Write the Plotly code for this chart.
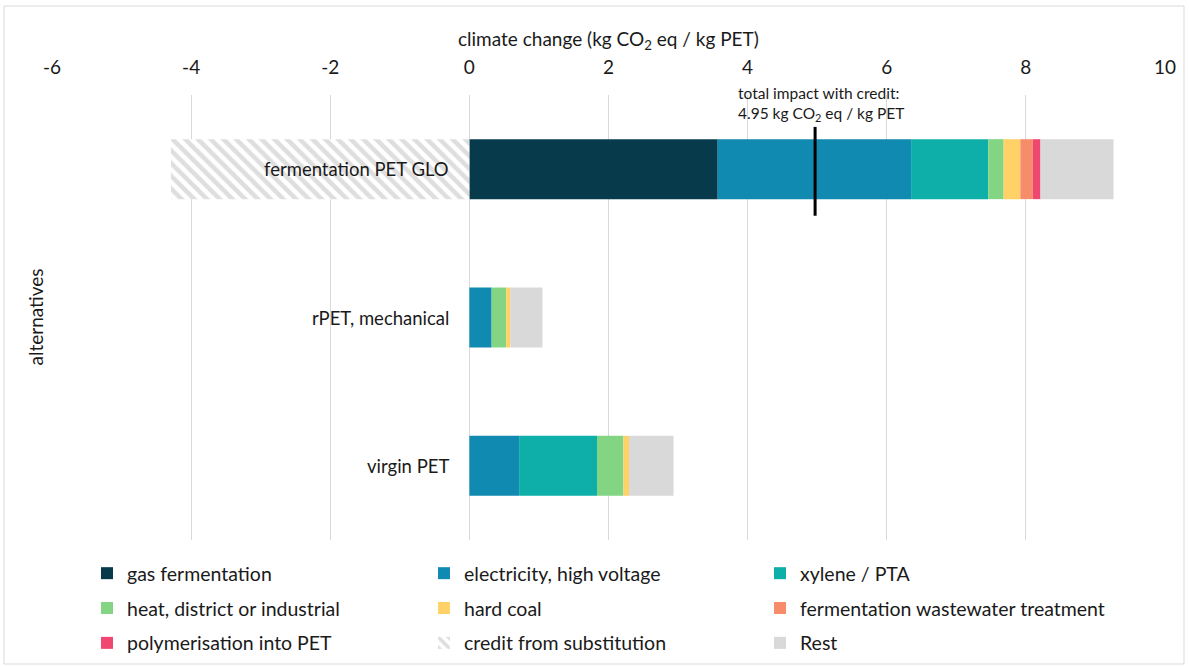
import plotly.graph_objects as go

categories = ["fermentation PET GLO", "rPET, mechanical", "virgin PET"]

gas_fermentation = [3.57, 0.0, 0.0]
electricity = [2.78, 0.32, 0.715]
xylene_pta = [1.11, 0.0, 1.12]
heat = [0.22, 0.21, 0.38]
hard_coal = [0.24, 0.06, 0.08]
wastewater = [0.18, 0.0, 0.0]
polymerisation = [0.11, 0.0, 0.0]
credit = [-4.29, 0.0, 0.0]
rest = [1.05, 0.46, 0.64]

x_ticks = [-6, -4, -2, 0, 2, 4, 6, 8, 10]
total_label = "total impact with credit:<br>4.95 kg CO<sub>2</sub> eq / kg PET"

FONT = "Lato"
W, H = 1189, 666
L, R, T, B = 52, 24, 95, 126
pw, ph = W - L - R, H - T - B

series = [
    ("gas fermentation", gas_fermentation, "#073B4C", "legend"),
    ("electricity, high voltage", electricity, "#118AB2", "legend2"),
    ("xylene / PTA", xylene_pta, "#0EAFA9", "legend3"),
    ("heat, district or industrial", heat, "#83D483", "legend"),
    ("hard coal", hard_coal, "#FFD166", "legend2"),
    ("fermentation wastewater treatment", wastewater, "#F78C6B", "legend3"),
    ("polymerisation into PET", polymerisation, "#EF476F", "legend"),
]

fig = go.Figure()
for name, vals, col, lg in series:
    fig.add_trace(go.Bar(
        y=categories, x=vals, name=name, orientation="h",
        marker=dict(color=col, line=dict(width=0)),
        legend=lg, legendgroup=name,
    ))

fig.add_trace(go.Bar(
    y=categories, x=credit, name="credit from substitution", orientation="h",
    marker=dict(color="white", line=dict(width=0),
                pattern=dict(shape="\\", fgcolor="#BDBDBD", bgcolor="white",
                             size=9, solidity=0.5)),
    legend="legend2", legendgroup="credit",
))
fig.add_trace(go.Bar(
    y=categories, x=rest, name="Rest", orientation="h",
    marker=dict(color="#D9D9D9", line=dict(width=0)),
    legend="legend3", legendgroup="rest",
))

# total line
pos_sum = sum(v[0] for _, v, _, _ in series) + rest[0]
total = pos_sum + credit[0]
fig.add_shape(type="line", xref="x", yref="y", x0=total, x1=total,
              y0=-0.285, y1=0.314, line=dict(color="black", width=3))

annotations = []
for i, c in enumerate(categories):
    annotations.append(dict(x=0, y=i, xref="x", yref="y", text=c, showarrow=False,
                            xanchor="right", yanchor="middle", xshift=-18,
                            font=dict(family=FONT, size=18.5, color="#1a1a1a")))
annotations.append(dict(x=3.83, y=-0.44, xref="x", yref="y", text=total_label,
                        showarrow=False, xanchor="left", yanchor="middle", align="left",
                        font=dict(family=FONT, size=15.5, color="#1a1a1a")))
annotations.append(dict(x=0.5, y=(H - 40 - B) / ph, xref="paper", yref="paper",
                        text="climate change (kg CO<sub>2</sub> eq / kg PET)",
                        showarrow=False, xanchor="center", yanchor="middle",
                        font=dict(family=FONT, size=19, color="#1a1a1a")))
annotations.append(dict(x=(35 - L) / pw, y=0.5, xref="paper", yref="paper",
                        text="alternatives", textangle=-90, showarrow=False,
                        xanchor="center", yanchor="middle",
                        font=dict(family=FONT, size=19, color="#1a1a1a")))

# chart border
fig.add_shape(type="rect", xref="paper", yref="paper",
              x0=(4 - L) / pw, x1=(1184 - L) / pw,
              y0=-(664 - (H - B)) / ph, y1=(H - B - 6) / ph,
              line=dict(color="#D9D9D9", width=1), layer="below")

leg_common = dict(orientation="v", yanchor="top", xanchor="left", yref="container",
                  font=dict(family=FONT, size=19.5, color="#1a1a1a"),
                  tracegroupgap=6.5, bgcolor="rgba(0,0,0,0)",
                  traceorder="grouped", itemclick=False)
leg_y = 1 - 554 / H

fig.update_layout(
    width=W, height=H,
    margin=dict(l=L, r=R, t=T, b=B, autoexpand=False),
    paper_bgcolor="white", plot_bgcolor="white",
    barmode="relative", bargap=0.596,
    font=dict(family=FONT, size=18, color="#1a1a1a"),
    xaxis=dict(side="top", range=[-6, 10], tickvals=x_ticks,
               ticktext=[str(t) for t in x_ticks],
               showgrid=True, gridcolor="#D9D9D9", gridwidth=1,
               zeroline=False, showline=False, ticks="", automargin=False,
               ticklabelstandoff=16,
               tickfont=dict(family=FONT, size=19, color="#1a1a1a")),
    yaxis=dict(categoryorder="array", categoryarray=categories,
               range=[2.5, -0.5], autorange=False,
               showticklabels=False, showgrid=False,
               zeroline=False, showline=False, ticks="", automargin=False),
    legend=dict(x=(87 - L) / pw, y=leg_y, **leg_common),
    legend2=dict(x=(424 - L) / pw, y=leg_y, **leg_common),
    legend3=dict(x=(760 - L) / pw, y=leg_y, **leg_common),
    annotations=annotations,
    showlegend=True,
)

fig.write_html("out.html", config={"displayModeBar": False},
               post_script="document.body.style.margin='0px';document.body.style.overflow='hidden';")
